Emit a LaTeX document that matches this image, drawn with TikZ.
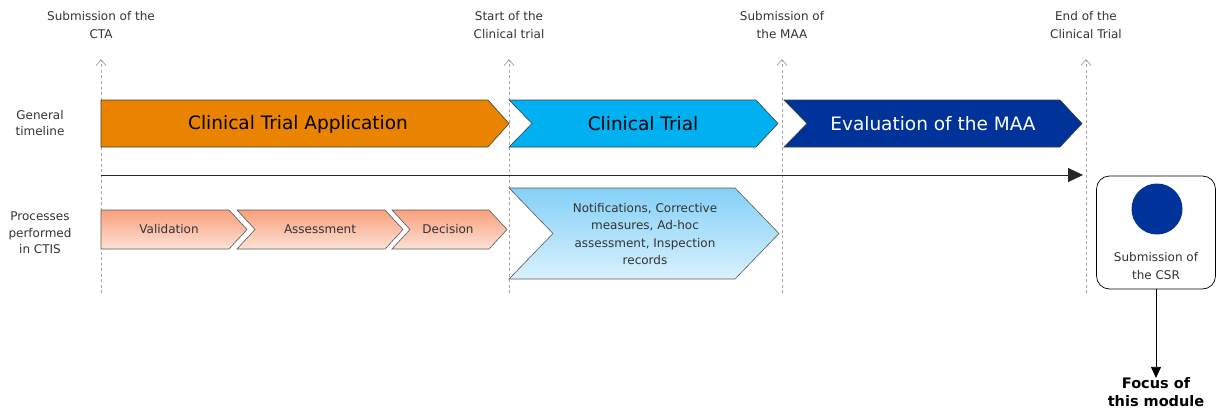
\documentclass[tikz,border=0pt]{standalone}
\usepackage{fontspec}
\setmainfont{DejaVu Sans}
\usetikzlibrary{arrows.meta}
\definecolor{ctaorange}{HTML}{E98300}
\definecolor{ctblue}{HTML}{00B0F0}
\definecolor{maablue}{HTML}{003399}
\definecolor{txtgray}{HTML}{333333}
\definecolor{dashgray}{HTML}{A6A6A6}
\definecolor{procTop}{HTML}{F8A07C}
\definecolor{procBot}{HTML}{FDE2D6}
\definecolor{lbTop}{HTML}{84D0F7}
\definecolor{lbBot}{HTML}{D9F1FD}
\tikzset{
  milestone/.style={draw=dashgray, dash pattern=on 3pt off 2.5pt, line width=0.8pt, -{Straight Barb[length=6pt,width=10pt,line width=0.8pt]}},
  toplabel/.style={align=center, text=txtgray, font=\fontsize{12}{18}\selectfont, inner sep=0pt},
  rowlabel/.style={align=center, text=txtgray, font=\fontsize{12}{16.5}\selectfont, inner sep=0pt},
  bigarrow/.style={draw=black!75, line width=0.6pt},
  bigtext/.style={font=\fontsize{18.5}{20}\selectfont, inner sep=0pt},
  procshape/.style={draw=black!65, line width=0.6pt, top color=procTop, bottom color=procBot},
  proctext/.style={text=txtgray, font=\fontsize{12}{14}\selectfont, inner sep=0pt},
  lbshape/.style={draw=black!65, line width=0.6pt, top color=lbTop, bottom color=lbBot},
  lbtext/.style={align=center, text=txtgray, font=\fontsize{12}{17.3}\selectfont, inner sep=0pt},
  csrbox/.style={draw=black, line width=0.7pt, rounded corners=13pt, fill=white},
}
\begin{document}
\begin{tikzpicture}[x=1pt,y=-1pt]
\useasboundingbox (0,0) rectangle (1216,412);

% milestone labels
\node[toplabel] (lab1) at (101,25) {Submission of the\\CTA};
\node[toplabel] (lab2) at (509,25) {Start of the\\Clinical trial};
\node[toplabel] (lab3) at (782,25) {Submission of\\the MAA};
\node[toplabel] (lab4) at (1086,25) {End of the\\Clinical Trial};

% milestone dashed lines
\coordinate (m1b) at (101,293); \coordinate (m1t) at (101,59);
\coordinate (m2b) at (509,293); \coordinate (m2t) at (509,59);
\coordinate (m3b) at (782,293); \coordinate (m3t) at (782,59);
\coordinate (m4b) at (1086,293); \coordinate (m4t) at (1086,59);
\draw[milestone] (m1b) -- (m1t);
\draw[milestone] (m2b) -- (m2t);
\draw[milestone] (m3b) -- (m3t);
\draw[milestone] (m4b) -- (m4t);

% row labels
\node[rowlabel] (rowA) at (40,123) {General\\timeline};
\node[rowlabel] (rowB) at (40,233) {Processes\\performed\\in CTIS};

% general timeline arrows
\path[bigarrow, fill=ctaorange] (101,100) -- (488,100) -- (509,123.5) -- (488,147) -- (101,147) -- cycle;
\node[bigtext] (cta) at (298,124) {Clinical Trial Application};
\path[bigarrow, fill=ctblue] (509,100) -- (756,100) -- (778,123.5) -- (756,147) -- (509,147) -- (532,123.5) -- cycle;
\node[bigtext] (ct) at (643,124) {Clinical Trial};
\path[bigarrow, fill=maablue] (784,100) -- (1060,100) -- (1082,123.5) -- (1060,147) -- (784,147) -- (807,123.5) -- cycle;
\node[bigtext, text=white] (maa) at (933,124) {Evaluation of the MAA};

% timeline arrow
\coordinate (tlstart) at (101,175);
\coordinate (tlend) at (1083,175);
\draw[black!85, line width=0.8pt, -{Triangle[length=15pt,width=14pt]}] (tlstart) -- (tlend);

% process chevrons
\path[procshape] (101,210) -- (229,210) -- (247,229.5) -- (229,249) -- (101,249) -- cycle;
\node[proctext] (val) at (169,229.5) {Validation};
\path[procshape] (237,210) -- (385,210) -- (403,229.5) -- (385,249) -- (237,249) -- (255,229.5) -- cycle;
\node[proctext] (ass) at (320,229.5) {Assessment};
\path[procshape] (392,210) -- (489,210) -- (507,229.5) -- (489,249) -- (392,249) -- (410,229.5) -- cycle;
\node[proctext] (dec) at (448,229.5) {Decision};

% big light-blue chevron
\path[lbshape] (509,188) -- (735,188) -- (779,233.5) -- (735,279) -- (509,279) -- (553,233.5) -- cycle;
\node[lbtext] (notif) at (645,234) {Notifications, Corrective\\measures, Ad-hoc\\assessment, Inspection\\records};

% CSR box
\node[csrbox, minimum width=119pt, minimum height=113pt, inner sep=0pt] (csr) at (1156,232.5) {};
\fill[maablue] (1157,209) circle (25.5pt);
\node[toplabel, font=\fontsize{12}{17.5}\selectfont] (csrtext) at (1156,266) {Submission of\\the CSR};

% focus
\node[align=center, inner sep=0pt, font=\fontsize{14.5}{18.5}\bfseries\selectfont] (focus) at (1156,392) {Focus of\\this module};
\draw[black, line width=0.8pt, -{Triangle[length=11pt,width=10pt]}] (csr.south) -- ([yshift=-1pt]focus.north);
\end{tikzpicture}
\end{document}
